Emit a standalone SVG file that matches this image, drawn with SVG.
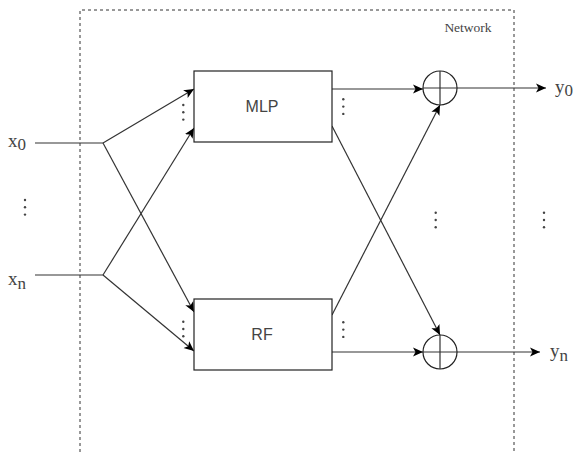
<svg xmlns="http://www.w3.org/2000/svg" width="576" height="452" viewBox="0 0 576 452">
<style>
.ln{stroke:#333;stroke-width:1.2;fill:none}
.box{stroke:#222;stroke-width:1.2;fill:#fff}
.dash{stroke:#333;stroke-width:1;stroke-dasharray:3,3;fill:none}
.lbl{font-family:"Liberation Sans",Arial,sans-serif;font-size:16px;fill:#444;text-anchor:middle}
.ser{font-family:"Liberation Serif","Times New Roman",serif;font-size:19px;fill:#444}
.sm{font-family:"Liberation Serif","Times New Roman",serif;font-size:13.5px;fill:#444}
.dot{fill:#444}
</style>
<defs>
<marker id="ah" viewBox="0 0 10 10" refX="10" refY="5" markerWidth="10" markerHeight="10" markerUnits="userSpaceOnUse" orient="auto">
<path d="M0,0.5 L10,5 L0,9.5 L2.5,5 Z" fill="#000"/>
</marker>
<g id="vd"><circle cx="0" cy="0" r="1.2"/><circle cx="0" cy="7.3" r="1.2"/><circle cx="0" cy="14.6" r="1.2"/></g>
</defs>
<g id="network">
<path class="dash" d="M80,452 V10 H514 V452"/>
<text class="sm" x="468" y="31.5" text-anchor="middle">Network</text>
</g>
<g id="connectors">
<path class="ln" d="M35,143 H103"/>
<path class="ln" d="M35,275 H103"/>
<path class="ln" d="M103,143 L194,89" marker-end="url(#ah)"/>
<path class="ln" d="M103,143 L194,312" marker-end="url(#ah)"/>
<path class="ln" d="M103,275 L194,128" marker-end="url(#ah)"/>
<path class="ln" d="M103,275 L194,351" marker-end="url(#ah)"/>
<path class="ln" d="M332,89 H423" marker-end="url(#ah)"/>
<path class="ln" d="M332,126 L440,335" marker-end="url(#ah)"/>
<path class="ln" d="M332,315 L440,105" marker-end="url(#ah)"/>
<path class="ln" d="M332,352 H423" marker-end="url(#ah)"/>
<path class="ln" d="M457,88 H546" marker-end="url(#ah)"/>
<path class="ln" d="M457,352 H540" marker-end="url(#ah)"/>
</g>
<g id="mlp">
<rect class="box" x="194" y="71" width="138" height="71"/>
<text class="lbl" x="262" y="112.3">MLP</text>
</g>
<g id="rf">
<rect class="box" x="194" y="299" width="138" height="71"/>
<text class="lbl" x="262" y="340">RF</text>
</g>
<g id="sum0">
<circle class="box" cx="440" cy="88" r="17"/>
<path class="ln" d="M423,88 H457 M440,71 V105"/>
</g>
<g id="sumn">
<circle class="box" cx="440" cy="352" r="17"/>
<path class="ln" d="M423,352 H457 M440,335 V369"/>
</g>
<g id="x0"><text class="ser" x="8" y="146.7">x<tspan font-size="17" dy="3.3">0</tspan></text></g>
<g id="xn"><text class="ser" x="8" y="285">x<tspan font-size="17" dy="4">n</tspan></text></g>
<g id="y0"><text class="ser" x="555" y="93">y<tspan font-size="17" dy="3">0</tspan></text></g>
<g id="yn"><text class="ser" x="550" y="357">y<tspan font-size="17" dy="4">n</tspan></text></g>
<g id="dots" class="dot">
<use href="#vd" x="25" y="200"/>
<use href="#vd" x="183.3" y="105"/>
<use href="#vd" x="343.3" y="99.3"/>
<use href="#vd" x="183.3" y="321.7"/>
<use href="#vd" x="343.3" y="322.3"/>
<use href="#vd" x="435.7" y="212.7"/>
<use href="#vd" x="544" y="212.7"/>
</g>
</svg>
